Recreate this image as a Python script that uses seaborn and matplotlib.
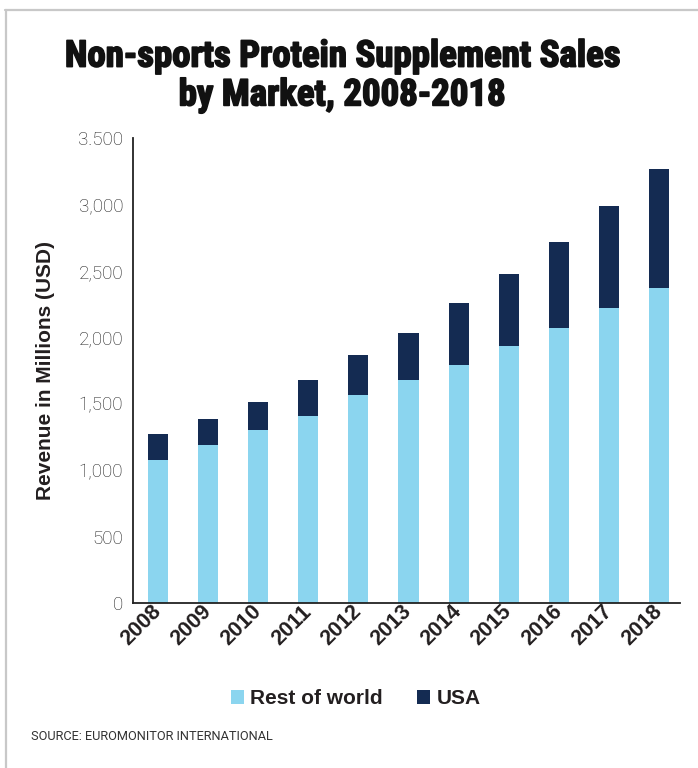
import matplotlib
matplotlib.use("Agg")
import matplotlib.pyplot as plt
import matplotlib.patheffects as pe
from matplotlib.patches import Patch
from matplotlib.lines import Line2D
import seaborn as sns
import pandas as pd

# Revenue in millions of USD, by market
years = ["2008", "2009", "2010", "2011", "2012", "2013", "2014", "2015", "2016", "2017", "2018"]
rest_of_world = [1080, 1190, 1300, 1410, 1565, 1680, 1790, 1935, 2070, 2220, 2370]
usa = [190, 195, 210, 265, 300, 355, 470, 545, 650, 770, 895]
y_ticks = [0, 500, 1000, 1500, 2000, 2500, 3000, 3500]
y_tick_labels = ["0", "500", "1,000", "1,500", "2,000", "2,500", "3,000", "3.500"]

LIGHT = "#8BD5EF"
NAVY = "#142B52"
TEXT = "#231F20"

sns.set_theme(style="white")
plt.rcParams["font.family"] = ["Liberation Sans", "DejaVu Sans"]

df = pd.DataFrame({"year": years, "row": rest_of_world, "usa": usa})
df["total"] = df["row"] + df["usa"]

fig = plt.figure(figsize=(6.98, 7.68), dpi=100)
ax = fig.add_axes([133 / 698, 165 / 768, (680 - 133) / 698, (603 - 138) / 768])

# Stacked bars: full height in navy, rest-of-world portion over it
sns.barplot(data=df, x="year", y="total", color=NAVY, width=0.4,
            saturation=1, ax=ax, linewidth=0)
sns.barplot(data=df, x="year", y="row", color=LIGHT, width=0.4,
            saturation=1, ax=ax, linewidth=0)

ax.set_xlim(-0.5, 10.42)
ax.set_ylim(0, 3500)
ax.set_yticks(y_ticks)
ax.set_yticklabels(y_tick_labels, fontsize=13.5, color="#1f1f1f",
                   family=["Roboto", "DejaVu Sans"], fontweight="light")
ax.tick_params(axis="y", length=0, pad=7)
ax.tick_params(axis="x", length=0, pad=4)
for lbl in ax.get_xticklabels():
    lbl.set_rotation(45)
    lbl.set_ha("right")
    lbl.set_va("center")
    lbl.set_rotation_mode("anchor")
    lbl.set_fontsize(15.5)
    lbl.set_fontweight("bold")
    lbl.set_color(TEXT)
ax.set_xlabel("")
ax.set_ylabel("Revenue in Millions (USD)", fontsize=15, fontweight="bold",
              color=TEXT, labelpad=17)

for side in ["top", "right"]:
    ax.spines[side].set_visible(False)
for side in ["left", "bottom"]:
    ax.spines[side].set_color("#222222")
    ax.spines[side].set_linewidth(1.3)

title = fig.text(342 / 698, 1 - 76 / 768,
                 "Non-sports Protein Supplement Sales\nby Market, 2008-2018",
                 ha="center", va="center", fontsize=26.5, fontweight="bold",
                 family=["Roboto Condensed", "Liberation Sans"], color="#111111",
                 linespacing=1.1)
title.set_path_effects([pe.withStroke(linewidth=1.2, foreground="#111111")])

handles = [Patch(facecolor=LIGHT, edgecolor="none", label="Rest of world"),
           Patch(facecolor=NAVY, edgecolor="none", label="USA")]
fig.legend(handles=handles, loc="center", bbox_to_anchor=(356 / 698, 1 - 699 / 768),
           ncol=2, frameon=False, handlelength=0.62, handleheight=0.62,
           handletextpad=0.3, columnspacing=1.65,
           prop={"weight": "bold", "size": 15}, labelcolor=TEXT)

fig.text(31 / 698, 1 - 737 / 768, "SOURCE: EUROMONITOR INTERNATIONAL",
         ha="left", va="center", fontsize=9.2, color="#333333",
         family=["Roboto", "DejaVu Sans"])

# Frame lines along the top and left edge
fig.add_artist(Line2D([5 / 698, 1], [1 - 9.5 / 768, 1 - 9.5 / 768],
                      color="#c8c8c8", linewidth=1.6, transform=fig.transFigure))
fig.add_artist(Line2D([5.5 / 698, 5.5 / 698], [0, 1 - 9.5 / 768],
                      color="#c8c8c8", linewidth=1.6, transform=fig.transFigure))

fig.savefig("out.png", dpi=100)
